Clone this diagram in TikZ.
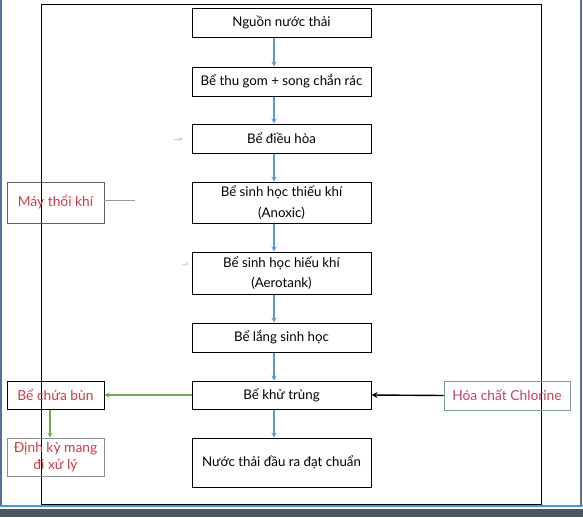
\documentclass[tikz,border=0pt]{standalone}
\usepackage{fontspec}
\setmainfont{Lato}
\usetikzlibrary{arrows.meta,calc}
\definecolor{flowblue}{HTML}{5B9BD5}
\definecolor{sludgegreen}{HTML}{70AD47}
\definecolor{redtext}{HTML}{D03A48}
\definecolor{pinktext}{HTML}{C8405E}
\definecolor{framegrey}{HTML}{606060}
\definecolor{chlorborder}{HTML}{7E9A9A}
\definecolor{winblue}{HTML}{5A6E9E}
\definecolor{lightblue}{HTML}{3FA0E0}
\definecolor{bargrey}{HTML}{50565E}
\tikzset{
  mainbox/.style={draw=black, line width=1pt, minimum width=179pt, align=center, inner sep=2pt, font=\fontsize{13.3}{20.5}\selectfont},
  sidebox/.style={draw=framegrey, line width=0.6pt, minimum width=97pt, align=center, inner sep=2pt, text=redtext, font=\fontsize{13.8}{20}\selectfont},
  flow/.style={draw=flowblue, line width=1.6pt, -{Stealth[length=5pt,width=5pt]}},
  greenflow/.style={draw=sludgegreen, line width=1.6pt, -{Stealth[length=5pt,width=5pt]}},
  blackflow/.style={draw=black, line width=1.4pt, -{Stealth[length=6pt,width=6pt]}},
  faint/.style={draw=black!25, line width=0.6pt, -{Stealth[length=4pt,width=4pt]}}
}
\begin{document}
\begin{tikzpicture}[x=1pt,y=-1pt]
\useasboundingbox (0,0) rectangle (583,517);
\fill[white] (0,0) rectangle (583,517);
% screenshot window edges
\fill[bargrey] (0,509) rectangle (583,517);
\draw[lightblue, line width=2pt] (0,506) -- (583,506);
\draw[winblue, line width=2pt] (1,0) -- (1,505);
\draw[winblue, line width=2pt] (580.5,0) -- (580.5,505);
% page frame
\draw[black, line width=0.9pt] (41,4) rectangle (541.5,504);

% main column
\node[mainbox, minimum height=29pt] (b1) at (281.5,22.5) {Nguồn nước thải};
\node[mainbox, minimum height=29pt] (b2) at (281.5,81.5) {Bể thu gom + song chắn rác};
\node[mainbox, minimum height=29pt] (b3) at (281.5,138.5) {Bể điều hòa};
\node[mainbox, minimum height=41pt] (b4) at (281.5,202.5) {Bể sinh học thiếu khí\\(Anoxic)};
\node[mainbox, minimum height=42pt] (b5) at (281.5,273) {Bể sinh học hiếu khí\\(Aerotank)};
\node[mainbox, minimum height=29pt] (b6) at (281.5,337.5) {Bể lắng sinh học};
\node[mainbox, minimum height=28pt] (b7) at (281.5,395) {Bể khử trùng};
\node[mainbox, minimum height=49pt] (b8) at (281.5,462.5) {Nước thải đầu ra đạt chuẩn};

% side boxes
\node[sidebox, minimum height=41pt] (may) at (55.5,202.5) {Máy thổi khí};
\node[sidebox, draw=black, line width=1pt, minimum height=28pt] (bun) at (55.5,395) {Bể chứa bùn};
\node[sidebox, draw=black!45, minimum height=38pt, font=\fontsize{13.8}{17.5}\selectfont] (dinhky) at (55.5,457) {Định kỳ mang\\đi xử lý};
\node[sidebox, draw=chlorborder, text=pinktext, minimum width=126pt, minimum height=29pt] (chlor) at (507,395.5) {Hóa chất Chlorine};

% flow arrows
\coordinate (ax) at (274,0);
\draw[flow] (b1.south -| ax) -- (b2.north -| ax);
\draw[flow] (b2.south -| ax) -- (b3.north -| ax);
\draw[flow] (b3.south -| ax) -- (b4.north -| ax);
\draw[flow] (b4.south -| ax) -- (b5.north -| ax);
\draw[flow] (b5.south -| ax) -- (b6.north -| ax);
\draw[flow] (b6.south -| ax) -- (b7.north -| ax);
\draw[flow] (b7.south -| ax) -- (b8.north -| ax);

% sludge and chemical
\draw[greenflow] (b7.west) -- (bun.east);
\coordinate (gx) at (50,0);
\draw[greenflow] (bun.south -| gx) -- (dinhky.north -| gx);
\draw[blackflow] (chlor.west) -- (b7.east);

% faint leftovers
\coordinate (mayend) at (135,200);
\draw[black!40, line width=0.6pt] (may.east |- mayend) -- (mayend);
\coordinate (fa1) at (174,139);
\draw[faint, draw=pink!60!black!40] (fa1) -- ++(9,0) coordinate (fa1e);
\coordinate (fa2) at (182,264);
\draw[faint, draw=black!15] (fa2) -- ++(7,0) coordinate (fa2e);
\end{tikzpicture}
\end{document}
